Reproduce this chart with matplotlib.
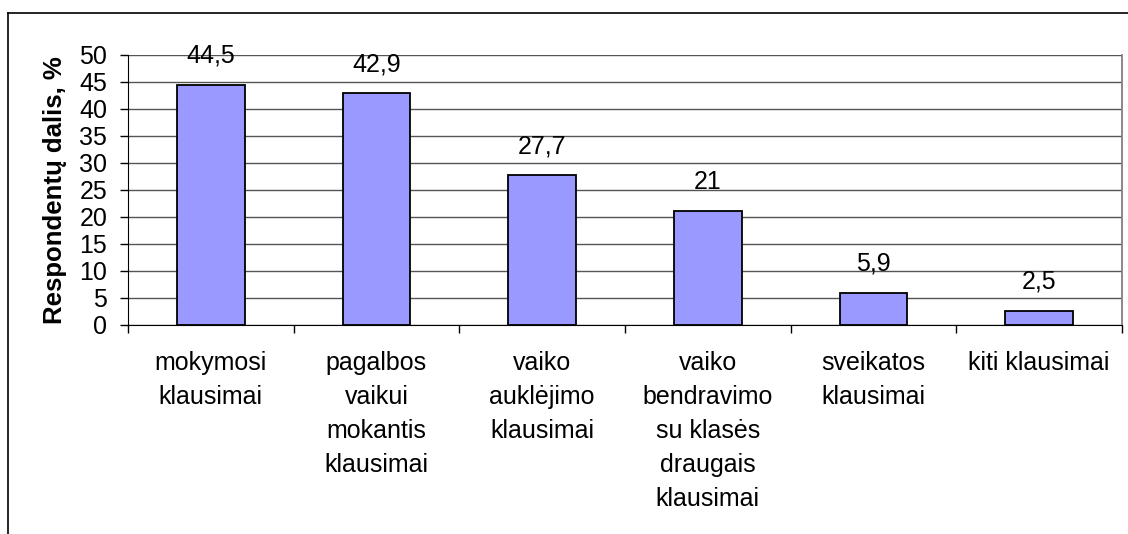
import matplotlib.pyplot as plt
import numpy as np

plt.rcParams["font.family"] = ["Liberation Sans", "DejaVu Sans"]

categories = [
    "mokymosi\nklausimai",
    "pagalbos\nvaikui\nmokantis\nklausimai",
    "vaiko\nauklėjimo\nklausimai",
    "vaiko\nbendravimo\nsu klasės\ndraugais\nklausimai",
    "sveikatos\nklausimai",
    "kiti klausimai",
]
values = [44.5, 42.9, 27.7, 21, 5.9, 2.5]
value_labels = ["44,5", "42,9", "27,7", "21", "5,9", "2,5"]
y_ticks = [0, 5, 10, 15, 20, 25, 30, 35, 40, 45, 50]

W, H = 1128, 534
fs = 18
fig = plt.figure(figsize=(W / 100, H / 100), dpi=100)

# outer chart frame (top, left, right)
fig.add_artist(plt.Line2D([8 / W, 8 / W], [0, 1 - 13 / H], color="black", lw=1.2))
fig.add_artist(plt.Line2D([8 / W, 1], [1 - 13 / H, 1 - 13 / H], color="black", lw=1.2))

left, right, top, bottom = 128, 1122, 55, 324.5
ax = fig.add_axes([left / W, 1 - bottom / H, (right - left) / W, (bottom - top) / H])

x = np.arange(len(categories))
ax.bar(x, values, width=0.41, color="#9999ff", edgecolor="black", linewidth=1.3, zorder=3)

for xi, v, lab in zip(x, values, value_labels):
    ax.annotate(lab, (xi, v), xytext=(0, 21), textcoords="offset points",
                ha="center", va="center", fontsize=fs)

ax.set_xlim(-0.5, len(categories) - 0.5)
ax.set_ylim(0, 50)
ax.set_yticks(y_ticks)
ax.set_yticklabels([str(t) for t in y_ticks], fontsize=fs)
ax.yaxis.grid(True, color="#555555", lw=1.0, zorder=0)

ax.set_xticks(np.arange(len(categories) + 1) - 0.5)
ax.set_xticklabels([])
ax.tick_params(axis="x", direction="out", length=6, width=1, color="black")
ax.tick_params(axis="y", direction="out", length=6, width=1, color="black", pad=9)

for xi, lab in zip(x, categories):
    ax.text(xi, -0.1, lab, transform=ax.get_xaxis_transform(), ha="center", va="top",
            fontsize=fs, linespacing=1.52)

ax.spines["left"].set_color("black")
ax.spines["bottom"].set_color("black")
ax.spines["top"].set_visible(False)
ax.spines["right"].set_color("#808080")
ax.spines["right"].set_linewidth(1.3)

ax.set_ylabel("Respondentų dalis, %", fontsize=18.5, fontweight="bold", labelpad=9)

fig.savefig("out.png", dpi=100)
